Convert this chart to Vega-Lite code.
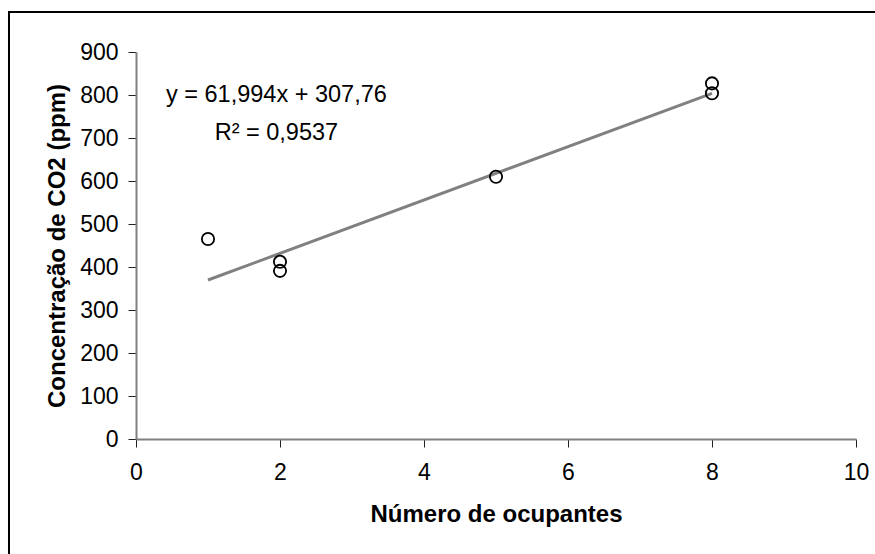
{
  "$schema": "https://vega.github.io/schema/vega-lite/v6.json",
  "autosize": "none",
  "width": 720,
  "height": 387,
  "padding": {"left": 136, "top": 52, "right": 19, "bottom": 115},
  "background": "white",
  "config": {
    "view": {"stroke": null},
    "font": "Liberation Sans",
    "axis": {"grid": false}
  },
  "datasets": {
    "pts": [
      {"ocupantes": 1, "co2": 465},
      {"ocupantes": 2, "co2": 412},
      {"ocupantes": 2, "co2": 391},
      {"ocupantes": 5, "co2": 610},
      {"ocupantes": 8, "co2": 827},
      {"ocupantes": 8, "co2": 804}
    ],
    "fit": [
      {"ocupantes": 1, "co2": 369.75},
      {"ocupantes": 8, "co2": 803.71}
    ],
    "one": [{}]
  },
  "layer": [
    {
      "data": {"name": "one"},
      "mark": {"type": "rect", "fill": null, "stroke": "black", "strokeWidth": 2, "clip": false},
      "encoding": {
        "x": {"datum": -1.764, "type": "quantitative"},
        "x2": {"datum": 10.6},
        "y": {"datum": 993, "type": "quantitative"},
        "y2": {"datum": -300}
      }
    },
    {
      "data": {"name": "fit"},
      "mark": {"type": "line", "color": "#808080", "strokeWidth": 3},
      "encoding": {
        "x": {"field": "ocupantes", "type": "quantitative"},
        "y": {"field": "co2", "type": "quantitative"}
      }
    },
    {
      "data": {"name": "pts"},
      "mark": {"type": "point", "shape": "circle", "filled": false, "stroke": "black", "strokeWidth": 1.8, "size": 150, "opacity": 1},
      "encoding": {
        "x": {
          "field": "ocupantes", "type": "quantitative",
          "scale": {"domain": [0, 10], "nice": false},
          "axis": {
            "title": "Número de ocupantes",
            "values": [0, 2, 4, 6, 8, 10],
            "format": "d",
            "domainColor": "#808080", "domainWidth": 2,
            "tickColor": "#222222", "tickWidth": 1, "tickSize": 8,
            "labelFont": "Liberation Sans", "labelFontSize": 23, "labelColor": "black",
            "labelPadding": 14, "labelFlush": false,
            "titleFont": "Liberation Sans", "titleFontSize": 24, "titleFontWeight": "bold",
            "titleColor": "black", "titlePadding": 18
          }
        },
        "y": {
          "field": "co2", "type": "quantitative",
          "scale": {"domain": [0, 900], "nice": false},
          "axis": {
            "title": "Concentração de CO2 (ppm)",
            "values": [0, 100, 200, 300, 400, 500, 600, 700, 800, 900],
            "format": "d",
            "domainColor": "#808080", "domainWidth": 2,
            "tickColor": "#222222", "tickWidth": 1, "tickSize": 8,
            "labelFont": "Liberation Sans", "labelFontSize": 23, "labelColor": "black",
            "labelPadding": 10, "labelFlush": false,
            "titleFont": "Liberation Sans", "titleFontSize": 24, "titleFontWeight": "bold",
            "titleColor": "black", "titlePadding": 10
          }
        }
      }
    },
    {
      "data": {"name": "one"},
      "mark": {"type": "text", "text": "y = 61,994x + 307,76", "font": "Liberation Sans", "fontSize": 23.5, "color": "black", "align": "center", "baseline": "middle"},
      "encoding": {
        "x": {"datum": 1.95, "type": "quantitative"},
        "y": {"datum": 800, "type": "quantitative"}
      }
    },
    {
      "data": {"name": "one"},
      "mark": {"type": "text", "text": "R² = 0,9537", "font": "Liberation Sans", "fontSize": 23.5, "color": "black", "align": "center", "baseline": "middle"},
      "encoding": {
        "x": {"datum": 1.95, "type": "quantitative"},
        "y": {"datum": 711, "type": "quantitative"}
      }
    }
  ]
}
